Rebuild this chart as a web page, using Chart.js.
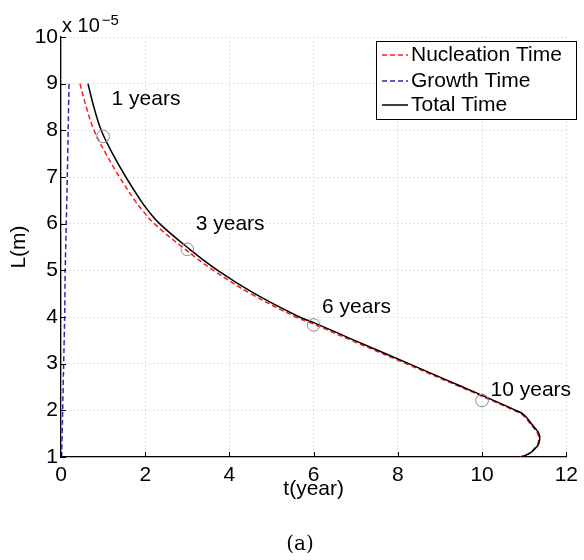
<!DOCTYPE html>
<html>
<head>
<meta charset="utf-8">
<script src="https://cdn.jsdelivr.net/npm/chart.js@4.4.0/dist/chart.umd.min.js"></script>
<style>
  html, body { margin: 0; padding: 0; background: #fff; }
  canvas { display: block; }
</style>
</head>
<body>
<canvas id="chart" width="584" height="560"></canvas>
<script>
// Crystal size L (x 1e-5 m) against time in years
const levels = [9.0, 8.5, 8.0, 7.5, 7.0, 6.5, 6.28, 6.0, 5.5, 5.0, 4.5, 4.0, 3.88, 3.5, 3.0, 2.5, 2.32, 2.0, 1.9, 1.69, 1.57, 1.5, 1.41, 1.3, 1.23, 1.09, 1.0];
const totalTime = [0.64, 0.78, 0.955, 1.225, 1.54, 1.89, 2.07, 2.34, 2.99, 3.72, 4.6, 5.66, 6.0, 6.97, 8.26, 9.54, 10.0, 10.8, 11.0, 11.19, 11.3, 11.35, 11.37, 11.35, 11.31, 11.15, 10.92];
const nucleationTime = [0.45, 0.60, 0.785, 1.065, 1.39, 1.75, 1.94, 2.215, 2.88, 3.62, 4.505, 5.575, 5.915, 6.895, 8.195, 9.49, 9.95, 10.76, 10.96, 11.16, 11.27, 11.32, 11.345, 11.33, 11.29, 11.13, 10.905];

const growthLevels = [1, 2, 3, 4, 5, 6, 7, 8, 9];
const growthTime = [0.015, 0.04, 0.063, 0.087, 0.10, 0.125, 0.15, 0.17, 0.19];

// marked instants along the total-time curve
const markTime = [1, 3, 6, 10];
const markLevel = [7.87, 5.45, 3.83, 2.21];
const markLabels = ['1 years', '3 years', '6 years', '10 years'];

const FONT = '"Liberation Sans", Arial, Helvetica, sans-serif';
const SIZE = 21;

const pts = (xs, ys) => xs.map((v, i) => ({ x: v, y: ys[i] }));

const decor = {
  id: 'decor',
  afterDraw(chart) {
    const { ctx, chartArea: a, scales: { x, y } } = chart;
    ctx.save();

    // inward tick marks
    ctx.strokeStyle = '#000';
    ctx.lineWidth = 1;
    x.ticks.forEach(tk => {
      const px = Math.round(x.getPixelForValue(tk.value)) + 0.5;
      ctx.beginPath(); ctx.moveTo(px, a.bottom); ctx.lineTo(px, a.bottom - 5); ctx.stroke();
    });
    y.ticks.forEach(tk => {
      const py = Math.round(y.getPixelForValue(tk.value)) + 0.5;
      ctx.beginPath(); ctx.moveTo(a.left, py); ctx.lineTo(a.left + 5, py); ctx.stroke();
    });

    // year annotations
    ctx.fillStyle = '#000';
    ctx.font = SIZE + 'px ' + FONT;
    ctx.textAlign = 'left';
    ctx.textBaseline = 'middle';
    markTime.forEach((t, i) => {
      ctx.fillText(markLabels[i], x.getPixelForValue(t + 0.2), y.getPixelForValue(markLevel[i] * 1.1));
    });

    // axis exponent
    ctx.textBaseline = 'alphabetic';
    ctx.font = '20px ' + FONT;
    ctx.fillText('x 10', a.left + 1, 32);
    const w = ctx.measureText('x 10').width;
    ctx.font = '15px ' + FONT;
    ctx.fillText('\u22125', a.left + 1 + w + 2, 25);

    // legend
    const lx = 376, ly = 41, lw = 200, lh = 78;
    ctx.fillStyle = '#fff';
    ctx.fillRect(lx, ly, lw, lh);
    ctx.strokeStyle = '#000';
    ctx.lineWidth = 1;
    ctx.strokeRect(lx + 0.5, ly + 0.5, lw, lh);
    const rows = [
      { ds: chart.data.datasets[3], y: ly + 14 },
      { ds: chart.data.datasets[2], y: ly + 40 },
      { ds: chart.data.datasets[1], y: ly + 64 }
    ];
    ctx.font = SIZE + 'px ' + FONT;
    ctx.textBaseline = 'middle';
    rows.forEach(r => {
      ctx.strokeStyle = r.ds.borderColor;
      ctx.lineWidth = r.ds.borderWidth;
      ctx.setLineDash(r.ds.borderDash || []);
      ctx.beginPath(); ctx.moveTo(lx + 6, r.y); ctx.lineTo(lx + 32, r.y); ctx.stroke();
      ctx.setLineDash([]);
      ctx.fillStyle = '#000';
      ctx.fillText(r.ds.label, lx + 35, r.y);
    });

    // caption
    ctx.font = '20px "DejaVu Serif", "Liberation Serif", serif';
    ctx.textAlign = 'center';
    ctx.fillText('(a)', 300, 545);

    ctx.restore();
  }
};

new Chart(document.getElementById('chart'), {
  type: 'scatter',
  data: {
    datasets: [
      {
        label: 'Marks',
        data: pts(markTime, markLevel),
        showLine: false,
        pointStyle: 'circle',
        pointRadius: 6.3,
        pointBorderWidth: 1,
        pointBorderColor: '#8a8a8a',
        pointBackgroundColor: 'rgba(0,0,0,0)',
        order: 0
      },
      {
        label: 'Total Time',
        data: pts(totalTime, levels),
        showLine: true,
        borderColor: '#000',
        borderWidth: 1.5,
        pointRadius: 0,
        tension: 0.4,
        order: 1
      },
      {
        label: 'Growth Time',
        data: pts(growthTime, growthLevels),
        showLine: true,
        borderColor: '#2b2ba8',
        borderWidth: 1.5,
        borderDash: [5, 3],
        pointRadius: 0,
        tension: 0.2,
        order: 2
      },
      {
        label: 'Nucleation Time',
        data: pts(nucleationTime, levels),
        showLine: true,
        borderColor: '#ff1a1a',
        borderWidth: 1.5,
        borderDash: [5, 3],
        pointRadius: 0,
        tension: 0.4,
        order: 3
      }
    ]
  },
  options: {
    responsive: false,
    animation: false,
    layout: { padding: { left: 4, right: 13, top: 37, bottom: 0 } },
    plugins: { legend: { display: false }, tooltip: { enabled: false } },
    scales: {
      x: {
        type: 'linear',
        min: 0, max: 12,
        ticks: { stepSize: 2, color: '#000', padding: 6, font: { family: FONT, size: SIZE } },
        grid: { color: '#c4c4c4', lineWidth: 1, drawTicks: false },
        border: { color: '#000', width: 1.3, dash: [1, 3] },
        title: { display: true, text: 't(year)', color: '#000', font: { family: FONT, size: SIZE }, padding: { top: 0, bottom: 58 } },
        afterFit(s) { s.height = 103; }
      },
      y: {
        type: 'linear',
        min: 1, max: 10,
        ticks: { stepSize: 1, color: '#000', padding: 3, font: { family: FONT, size: SIZE } },
        grid: { color: '#c4c4c4', lineWidth: 1, drawTicks: false },
        border: { color: '#000', width: 1.3, dash: [1, 3] },
        title: { display: true, text: 'L(m)', color: '#000', font: { family: FONT, size: SIZE }, padding: { top: 3, bottom: 0 } },
        afterFit(s) { s.width = 57; }
      }
    }
  },
  plugins: [decor]
});
</script>
</body>
</html>
